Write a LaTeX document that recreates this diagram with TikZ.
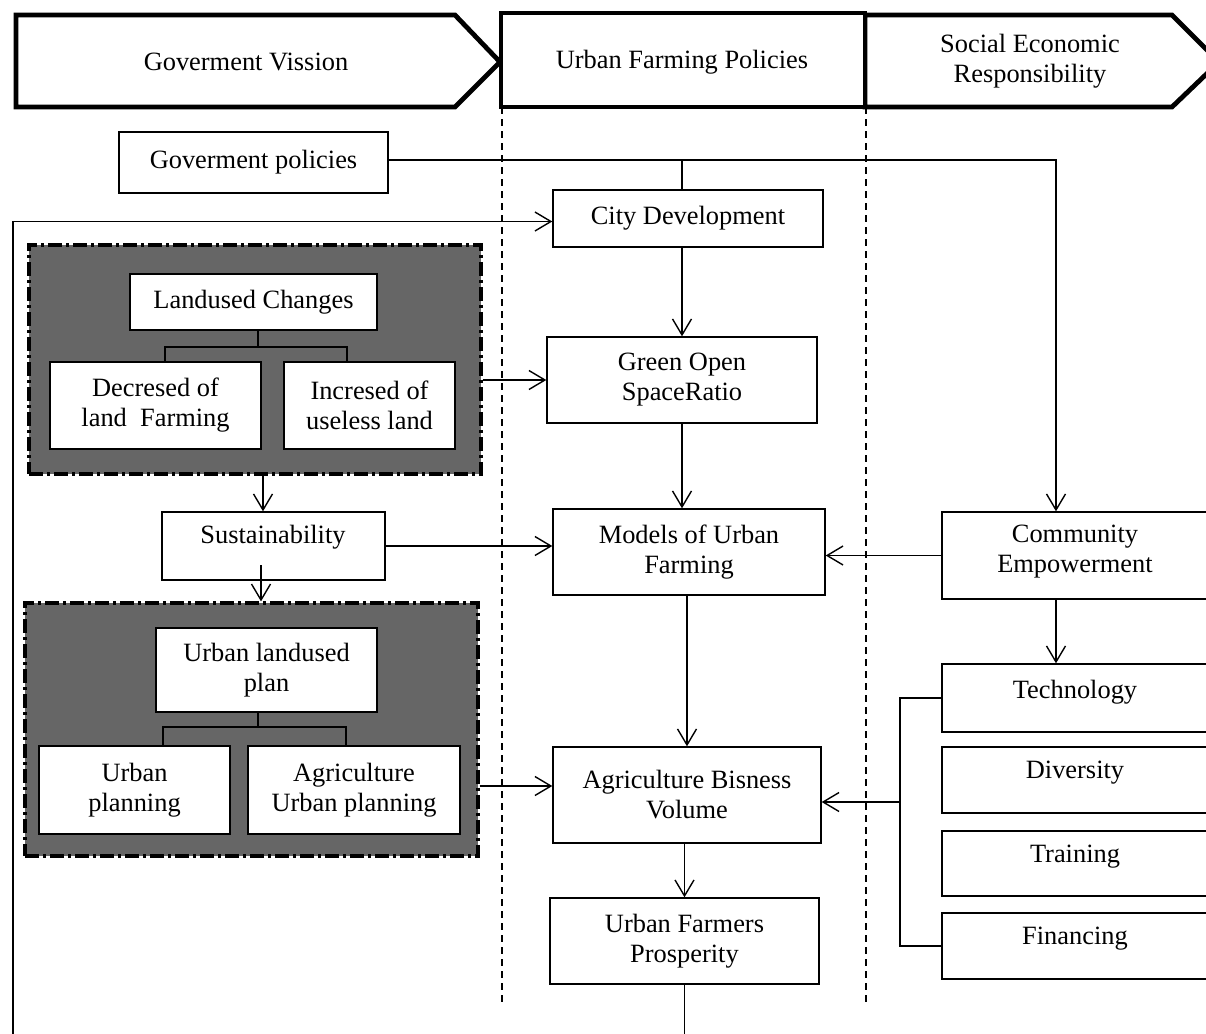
\documentclass[tikz,border=0pt]{standalone}
\usepackage{fontspec}
\setmainfont{Liberation Serif}
\usetikzlibrary{arrows.meta,calc}
\begin{document}
\begin{tikzpicture}[x=0.5pt,y=-0.5pt,
 fnt/.style={font=\fontsize{13.2pt}{15pt}\selectfont},
 box/.style={draw, line width=0.7pt, fill=white, inner sep=0pt, align=center, fnt},
 txt/.style={inner sep=0pt, align=center, fnt},
 arr/.style={draw, line width=0.7pt, -{Straight Barb[length=8pt,width=9.5pt,line width=0.7pt]}},
 conn/.style={draw, line width=0.7pt},
 brk/.style={draw, line width=1.2pt},
 hdr/.style={draw, line width=2.4pt, line join=miter, fill=white},
 grp/.style={draw, line width=1.6pt, fill=black!60, inner sep=0pt, dash pattern=on 7pt off 2pt on 1.5pt off 2pt},
 lane/.style={draw, line width=0.6pt, dash pattern=on 3.5pt off 2.5pt}]
\useasboundingbox (0,0) rectangle (1206,1034);
\clip (0,0) rectangle (1206,1034);
\fill[white] (0,0) rectangle (1206,1034);

% lanes
\draw[lane] (502,107) -- (502,1005);
\draw[lane] (866,107) -- (866,1005);

% header
\draw[hdr] (16,15) -- (455,15) -- (500,62) -- (455,107) -- (16,107) -- cycle;
\node[txt] (gv) at (246,62) {Goverment Vission};
\draw[hdr] (865,15) -- (1172,15) -- (1219,62) -- (1172,107) -- (865,107) -- cycle;
\node[txt] (ser) at (1030,61) {Social Economic\\Responsibility};
\draw[hdr] (501,13) rectangle (865,107);
\node[txt] (ufpol) at (682,62) {Urban Farming Policies};

% middle column
\node[box, minimum width=134.5pt, minimum height=30.5pt] (gp) at (253.5,162.5) {Goverment policies};
\node[box, minimum width=135pt, minimum height=28.5pt] (cd) at (688,218.5) {City Development};
\node[box, minimum width=135pt, minimum height=43pt] (go) at (682,380) {Green Open\\SpaceRatio};
\node[box, minimum width=136pt, minimum height=43pt] (mu) at (689,552) {Models of Urban\\Farming};
\node[box, minimum width=134pt, minimum height=48pt] (ab) at (687,795) {Agriculture Bisness\\Volume};
\node[box, minimum width=134.5pt, minimum height=43pt] (ufp) at (684.5,941) {Urban Farmers\\Prosperity};

% group 1
\node[grp, minimum width=226pt, minimum height=114.5pt] (g1) at (255,359.5) {};
\node[box, minimum width=123.5pt, minimum height=28pt] (lc) at (253.5,302) {Landused Changes};
\node[box, minimum width=105.5pt, minimum height=43.5pt] (dec) at (155.5,405.5) {Decresed of\\land\ \ Farming};
\node[box, minimum width=85.5pt, minimum height=43.5pt] (inc) at (369.5,405.5) {Incresed of\\useless land};
\coordinate (b1) at (258,347);
\coordinate (b1l) at (165,347);
\coordinate (b1r) at (347,347);
\draw[brk] (lc.south -| b1) -- (b1);
\draw[brk] (dec.north -| b1l) -- (b1l) -- (b1r) -- (inc.north -| b1r);

% sustainability
\node[box, minimum width=111.5pt, minimum height=34pt] (sust) at (273.5,546) {};
\node[txt] (sustT) at (273,537) {Sustainability};

% group 2
\node[grp, minimum width=226.5pt, minimum height=126.5pt] (g2) at (251.5,729.5) {};
\node[box, minimum width=110.5pt, minimum height=42pt] (ulp) at (266.5,670) {Urban landused\\plan};
\node[box, minimum width=95.5pt, minimum height=44pt] (up) at (134.5,790) {Urban\\planning};
\node[box, minimum width=106pt, minimum height=44pt] (aup) at (354,790) {Agriculture\\Urban planning};
\coordinate (b2) at (258,727);
\coordinate (b2l) at (163,727);
\coordinate (b2r) at (346,727);
\draw[brk] (ulp.south -| b2) -- (b2);
\draw[brk] (up.north -| b2l) -- (b2l) -- (b2r) -- (aup.north -| b2r);

% right column
\node[box, minimum width=136pt, minimum height=43.5pt] (ce) at (1078,555.5) {};
\node[txt] (ceT) at (1075,552) {Community\\Empowerment};
\node[box, minimum width=136pt, minimum height=34pt] (tech) at (1078,698) {};
\node[txt] (techT) at (1075,692) {Technology};
\node[box, minimum width=136pt, minimum height=33pt] (div) at (1078,780) {};
\node[txt] (divT) at (1075,773) {Diversity};
\node[box, minimum width=136pt, minimum height=32.5pt] (tra) at (1078,863.5) {};
\node[txt] (traT) at (1075,857) {Training};
\node[box, minimum width=136pt, minimum height=33pt] (fin) at (1078,946) {};
\node[txt] (finT) at (1075,939) {Financing};

% connectors
\coordinate (gpc) at (1056,160);
\draw[arr] (gp.east |- gpc) -| (ce.north -| gpc);
\coordinate (cdb) at (682,0);
\draw[conn] (cd.north -| cdb) -- (gpc -| cdb);
\coordinate (lb) at (13,1040);
\coordinate (cdw) at ($(cd.west)+(0,3)$);
\draw[arr] (lb) |- (cdw);
\draw[arr] (cd.south -| cdb) -- (go.north -| cdb);
\draw[arr] (go.south) -- (go.south |- mu.north);
\draw[arr] (mu.south -| ab.north) -- (ab.north);
\draw[arr] (ab.south -| ufp.north) -- (ufp.north);
\coordinate (ufpb) at (684,1040);
\draw[conn] (ufp.south) -- (ufp.south |- ufpb);
\draw[arr] (g1.east |- go.west) -- (go.west);
\coordinate (sa) at (263,0);
\draw[arr] (g1.south -| sa) -- (sust.north -| sa);
\coordinate (sb) at (261,565);
\draw[arr] (sb) -- (sb |- g2.north);
\draw[arr] (sust.east) -- (sust.east -| mu.west);
\draw[arr] (ce.west) -- (ce.west -| mu.east);
\draw[arr] (ce.south -| gpc) -- (tech.north -| gpc);
\coordinate (abw) at ($(ab.west)+(0,-9)$);
\draw[arr] (g2.east |- abw) -- (abw);
\coordinate (tb) at (900,0);
\draw[conn, line width=0.9pt] (tech.west) -| (tb |- fin.west) -- (fin.west);
\coordinate (abe) at ($(ab.east)+(0,7)$);
\draw[arr] (abe -| tb) -- (abe);
\end{tikzpicture}
\end{document}
